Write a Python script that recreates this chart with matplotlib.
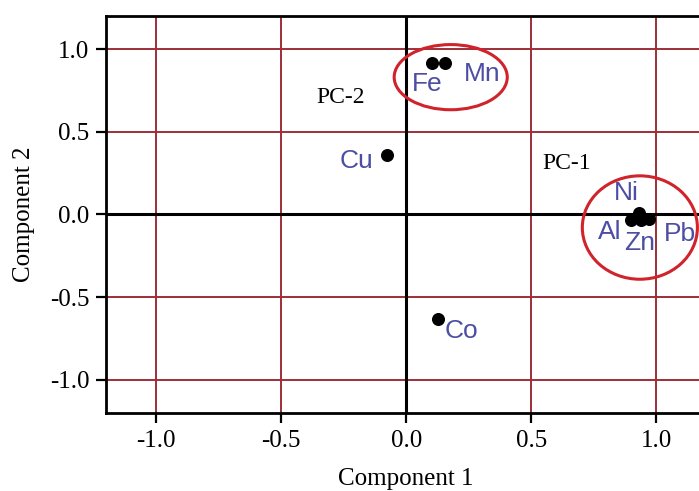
import matplotlib.pyplot as plt
from matplotlib.patches import Ellipse

# loadings
elements = ['Fe', 'Mn', 'Cu', 'Co', 'Ni', 'Al', 'Zn', 'Pb']
comp1 = [0.105, 0.155, -0.078, 0.126, 0.93, 0.898, 0.938, 0.97]
comp2 = [0.915, 0.915, 0.357, -0.63, 0.006, -0.036, -0.036, -0.03]

ticks = [-1.0, -0.5, 0.0, 0.5, 1.0]

# label offsets from the dot, in pixels
offsets = [(-5, -21), (37, -11), (-30, -6), (24, -12),
           (-13, 20), (-21, -12), (-1, -23), (31, -15)]

grid_col = '#9e2f38'
ring_col = '#d0232b'
lab_col = '#4d4ea3'
serif = 'Liberation Serif'
sans = 'Liberation Sans'

fig = plt.figure(figsize=(6.99, 4.91), dpi=100)
# right edge of the plot runs past the figure like in the original
ax = fig.add_axes([0.1516, 0.1589, 0.859, 0.8086])
ax.set_xlim(-1.2, 1.2)
ax.set_ylim(-1.2, 1.2)

for t in ticks:
    if t == 0:
        continue
    ax.axvline(t, color=grid_col, lw=1.4, zorder=1)
    ax.axhline(t, color=grid_col, lw=1.4, zorder=1)
ax.axvline(0, color='black', lw=2.2, zorder=2)
ax.axhline(0, color='black', lw=2.2, zorder=2)

ax.scatter(comp1, comp2, s=70, color='black', zorder=4)
for name, x, y, off in zip(elements, comp1, comp2, offsets):
    ax.annotate(name, (x, y), xytext=off, textcoords='offset pixels',
                ha='center', va='center', color=lab_col, fontsize=19,
                family=sans, zorder=5)

ax.add_patch(Ellipse((0.178, 0.83), 0.452, 0.394, fill=False,
                     ec=ring_col, lw=2.2, zorder=3))
ax.add_patch(Ellipse((0.934, -0.079), 0.46, 0.625, fill=False,
                     ec=ring_col, lw=2.2, zorder=3))

ax.text(0.546, 0.309, 'PC-1', fontsize=17, family=serif, va='center', ha='left')
ax.text(-0.262, 0.709, 'PC-2', fontsize=17, family=serif, va='center', ha='center')

ax.set_xticks(ticks)
ax.set_yticks(ticks)
ax.set_xticklabels([f'{t:.1f}' for t in ticks])
ax.set_yticklabels([f'{t:.1f}' for t in ticks])
ax.tick_params(length=7, width=1.6, labelsize=18, pad=5)
for lbl in ax.get_xticklabels() + ax.get_yticklabels():
    lbl.set_family(serif)
for sp in ax.spines.values():
    sp.set_linewidth(2.0)
ax.spines['right'].set_visible(False)

ax.set_xlabel('Component 1', fontsize=18, family=serif, labelpad=12)
ax.set_ylabel('Component 2', fontsize=18, family=serif, labelpad=11)

fig.savefig('out.png', dpi=100)
